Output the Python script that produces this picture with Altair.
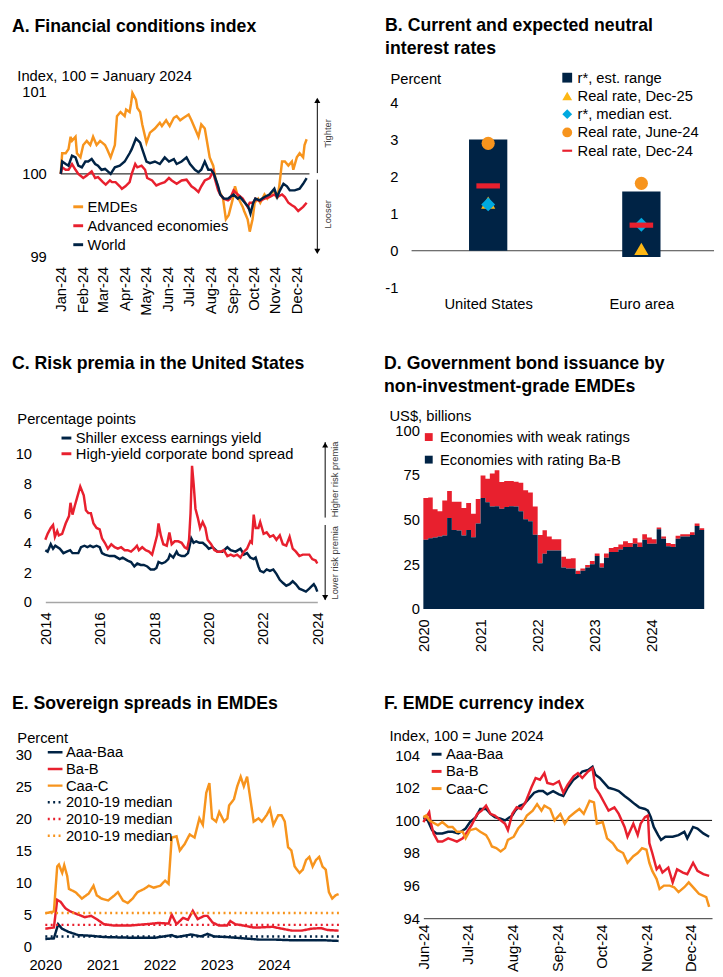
import altair as alt
import pandas as pd

FONT = "Liberation Sans"
NAVY = "#002345"
RED = "#E8202E"
ORANGE = "#F7941D"
GOLD = "#FDB714"
CYAN = "#00A9E0"
INK = "#000000"
NOTE = "#404040"

# ---------------- Panel A: Financial conditions index ----------------
A_SERIES = ["EMDEs", "Advanced economies", "World"]
A_EMDE = [("2024-01-01",100.00),("2024-01-03",100.25),("2024-01-08",100.25),("2024-01-12",100.30),("2024-01-15",100.45),("2024-01-17",100.40),("2024-01-22",100.45),("2024-01-24",100.25),("2024-01-29",100.20),("2024-02-02",100.35),("2024-02-07",100.40),("2024-02-12",100.35),("2024-02-16",100.45),("2024-02-21",100.35),("2024-02-26",100.40),("2024-03-04",100.35),("2024-03-07",100.30),("2024-03-12",100.20),("2024-03-18",100.35),("2024-03-21",100.70),("2024-03-26",100.75),("2024-04-01",100.70),("2024-04-03",100.78),("2024-04-08",100.75),("2024-04-10",100.85),("2024-04-12",100.98),("2024-04-17",100.90),("2024-04-19",100.80),("2024-04-23",100.75),("2024-04-26",100.60),("2024-05-02",100.38),("2024-05-07",100.50),("2024-05-14",100.55),("2024-05-21",100.62),("2024-05-24",100.58),("2024-05-30",100.65),("2024-06-04",100.58),("2024-06-10",100.68),("2024-06-14",100.70),("2024-06-19",100.65),("2024-06-24",100.68),("2024-07-01",100.72),("2024-07-05",100.65),("2024-07-10",100.55),("2024-07-15",100.45),("2024-07-19",100.60),("2024-07-24",100.55),("2024-07-26",100.45),("2024-07-31",100.20),("2024-08-05",100.10),("2024-08-08",99.95),("2024-08-13",99.80),("2024-08-19",99.70),("2024-08-23",99.45),("2024-08-27",99.50),("2024-09-02",99.70),("2024-09-05",99.85),("2024-09-10",99.70),("2024-09-16",99.60),("2024-09-18",99.55),("2024-09-23",99.45),("2024-09-26",99.30),("2024-09-30",99.45),("2024-10-03",99.65),("2024-10-08",99.70),("2024-10-11",99.65),("2024-10-17",99.75),("2024-10-21",99.70),("2024-10-25",99.75),("2024-10-31",99.80),("2024-11-04",99.70),("2024-11-07",99.85),("2024-11-11",100.15),("2024-11-15",100.15),("2024-11-20",100.10),("2024-11-25",100.15),("2024-11-27",100.05),("2024-12-02",100.20),("2024-12-06",100.25),("2024-12-11",100.20),("2024-12-13",100.35),("2024-12-16",100.42)]
A_AE = [("2024-01-01",100.00),("2024-01-03",100.08),("2024-01-08",100.05),("2024-01-12",100.05),("2024-01-17",100.12),("2024-01-22",100.05),("2024-01-26",100.00),("2024-02-02",99.95),("2024-02-07",99.98),("2024-02-14",100.03),("2024-02-19",99.95),("2024-02-23",99.96),("2024-03-01",99.90),("2024-03-05",99.87),("2024-03-11",99.92),("2024-03-14",99.90),("2024-03-19",99.90),("2024-03-25",99.85),("2024-03-28",99.82),("2024-04-02",99.85),("2024-04-08",99.90),("2024-04-11",100.00),("2024-04-16",100.12),("2024-04-19",100.08),("2024-04-25",100.10),("2024-04-30",100.05),("2024-05-03",99.95),("2024-05-10",99.92),("2024-05-16",99.86),("2024-05-21",99.88),("2024-05-28",99.90),("2024-06-03",99.95),("2024-06-07",99.92),("2024-06-14",99.88),("2024-06-21",99.92),("2024-06-28",99.93),("2024-07-05",99.85),("2024-07-10",99.82),("2024-07-15",99.78),("2024-07-19",99.85),("2024-07-24",99.92),("2024-07-31",99.95),("2024-08-05",100.03),("2024-08-07",99.95),("2024-08-12",99.80),("2024-08-15",99.75),("2024-08-20",99.70),("2024-08-26",99.68),("2024-08-29",99.70),("2024-09-03",99.80),("2024-09-09",99.75),("2024-09-16",99.70),("2024-09-23",99.60),("2024-09-26",99.65),("2024-10-01",99.65),("2024-10-04",99.70),("2024-10-10",99.67),("2024-10-17",99.70),("2024-10-24",99.72),("2024-10-31",99.75),("2024-11-04",99.72),("2024-11-11",99.75),("2024-11-15",99.72),("2024-11-20",99.65),("2024-11-25",99.62),("2024-11-29",99.60),("2024-12-04",99.55),("2024-12-11",99.60),("2024-12-16",99.65)]
A_WORLD = [("2024-01-01",100.00),("2024-01-03",100.15),("2024-01-08",100.12),("2024-01-12",100.10),("2024-01-17",100.22),("2024-01-22",100.20),("2024-01-26",100.10),("2024-01-31",100.08),("2024-02-05",100.15),("2024-02-09",100.15),("2024-02-14",100.18),("2024-02-19",100.12),("2024-02-23",100.10),("2024-02-28",100.05),("2024-03-04",100.06),("2024-03-12",100.00),("2024-03-18",100.08),("2024-03-25",100.10),("2024-04-01",100.15),("2024-04-08",100.25),("2024-04-11",100.30),("2024-04-17",100.43),("2024-04-23",100.38),("2024-04-26",100.30),("2024-05-02",100.15),("2024-05-07",100.13),("2024-05-14",100.15),("2024-05-21",100.12),("2024-05-28",100.20),("2024-06-03",100.15),("2024-06-10",100.18),("2024-06-14",100.12),("2024-06-21",100.15),("2024-06-28",100.20),("2024-07-03",100.12),("2024-07-10",100.05),("2024-07-15",100.02),("2024-07-19",100.05),("2024-07-24",100.15),("2024-07-29",100.05),("2024-08-02",100.05),("2024-08-06",100.00),("2024-08-12",99.85),("2024-08-15",99.75),("2024-08-20",99.70),("2024-08-26",99.70),("2024-08-29",99.72),("2024-09-03",99.75),("2024-09-09",99.70),("2024-09-12",99.72),("2024-09-19",99.65),("2024-09-24",99.60),("2024-09-27",99.52),("2024-10-01",99.65),("2024-10-04",99.70),("2024-10-10",99.68),("2024-10-17",99.72),("2024-10-24",99.75),("2024-10-31",99.82),("2024-11-04",99.72),("2024-11-08",99.80),("2024-11-13",99.88),("2024-11-18",99.85),("2024-11-22",99.80),("2024-11-29",99.80),("2024-12-06",99.82),("2024-12-11",99.88),("2024-12-16",99.95)]
A_BASE = {"start": ["2024-01-01"], "end": ["2024-12-20"], "level": [100]}
A_ARROWS = {"y": [100.01, 99.93], "y2": [100.90, 99.05]}
A_HEADS = {"y": [100.89, 99.06], "shape": ["triangle-up", "triangle-down"]}
A_NOTES = {"y": [100.49, 99.51], "label": ["Tighter", "Looser"]}

# ---------------- Panel B: neutral rates ----------------
B_COUNTRIES = ["United States", "Euro area"]
B_RANGE_LOW = [0.0, -0.17]
B_RANGE_HIGH = [3.0, 1.6]
B_SERIES = ["r*, est. range", "Real rate, Dec-25", "r*, median est.", "Real rate, June-24", "Real rate, Dec-24"]
B_DEC25 = [1.30, 0.05]
B_MEDIAN = [1.25, 0.70]
B_JUN24 = [2.90, 1.82]
B_DEC24 = [1.75, 0.69]

# ---------------- Panel C: risk premia ----------------
C_SERIES = ["Shiller excess earnings yield", "High-yield corporate bond spread"]
C_SHILLER = [("2014-01-01",3.5),("2014-02-01",3.4),("2014-03-15",3.9),("2014-04-15",3.6),("2014-05-15",3.8),("2014-07-15",3.6),("2014-09-01",3.3),("2014-10-15",3.4),("2014-12-01",3.5),("2015-01-01",3.3),("2015-02-15",3.3),("2015-03-20",3.3),("2015-04-25",3.7),("2015-06-10",3.8),("2015-07-20",3.7),("2015-08-25",3.8),("2015-10-05",3.7),("2015-11-20",3.8),("2016-01-01",3.7),("2016-02-01",3.3),("2016-03-10",3.2),("2016-05-15",3.1),("2016-07-20",3.1),("2016-09-25",2.9),("2016-11-05",3.0),("2017-01-10",2.8),("2017-02-25",2.7),("2017-04-10",2.4),("2017-05-20",2.6),("2017-07-05",2.5),("2017-08-15",2.5),("2017-10-01",2.4),("2017-11-15",2.2),("2018-01-01",2.2),("2018-02-01",2.3),("2018-03-01",2.7),("2018-04-15",2.6),("2018-05-30",2.7),("2018-07-10",2.9),("2018-08-01",3.2),("2018-09-15",3.0),("2018-10-30",3.4),("2018-11-20",3.2),("2019-01-05",3.1),("2019-02-15",3.1),("2019-04-01",3.3),("2019-05-15",4.3),("2019-06-15",4.0),("2019-07-20",4.1),("2019-09-01",4.0),("2019-10-15",4.0),("2019-11-30",3.8),("2020-01-05",3.6),("2020-02-25",3.7),("2020-05-01",3.4),("2020-07-05",3.4),("2020-09-10",3.7),("2020-10-25",3.5),("2020-12-30",3.4),("2021-03-05",3.6),("2021-04-20",3.2),("2021-06-01",3.3),("2021-07-15",3.0),("2021-08-30",2.9),("2021-09-25",3.0),("2021-11-01",2.4),("2021-11-25",2.1),("2022-01-10",2.0),("2022-02-20",2.2),("2022-04-05",2.1),("2022-05-20",2.2),("2022-07-01",1.9),("2022-08-15",1.5),("2022-09-25",1.3),("2022-11-10",1.1),("2022-12-25",1.2),("2023-02-05",1.4),("2023-03-20",1.2),("2023-05-05",0.9),("2023-06-20",0.8),("2023-08-01",0.7),("2023-09-15",0.9),("2023-10-25",1.1),("2023-11-15",1.2),("2023-12-10",1.0),("2024-01-01",0.7)]
C_HIGHYIELD = [("2014-01-01",4.2),("2014-02-01",4.6),("2014-03-15",5.0),("2014-04-15",5.2),("2014-05-10",4.4),("2014-06-10",4.8),("2014-07-01",4.5),("2014-08-15",4.6),("2014-10-01",5.3),("2014-11-15",5.8),("2014-12-05",6.7),("2015-01-01",5.9),("2015-02-01",6.5),("2015-03-01",7.0),("2015-04-15",7.8),("2015-06-01",7.2),("2015-06-30",6.2),("2015-08-01",6.0),("2015-09-05",6.0),("2015-10-10",5.3),("2015-11-20",5.0),("2016-01-01",4.9),("2016-02-01",4.3),("2016-03-10",4.0),("2016-04-20",3.6),("2016-06-05",3.9),("2016-07-20",3.7),("2016-09-01",3.6),("2016-10-15",3.7),("2016-12-01",3.5),("2017-01-10",3.5),("2017-02-25",3.4),("2017-04-10",3.6),("2017-05-15",3.8),("2017-06-10",3.5),("2017-07-25",3.7),("2017-09-10",3.5),("2017-10-25",3.4),("2017-12-05",3.2),("2018-01-05",3.8),("2018-02-10",4.5),("2018-03-01",5.3),("2018-04-01",4.5),("2018-05-05",3.9),("2018-06-20",3.8),("2018-07-25",4.7),("2018-08-25",3.9),("2018-10-05",4.1),("2018-11-20",4.1),("2019-01-05",4.0),("2019-02-15",3.7),("2019-03-20",3.6),("2019-04-15",4.2),("2019-05-05",6.0),("2019-05-25",9.2),("2019-06-15",8.0),("2019-07-10",6.3),("2019-08-10",5.7),("2019-09-10",5.0),("2019-10-15",5.4),("2019-11-20",5.0),("2019-12-20",4.2),("2020-02-05",3.9),("2020-03-20",3.5),("2020-05-01",3.4),("2020-06-15",3.4),("2020-07-25",3.5),("2020-09-10",3.1),("2020-10-25",3.2),("2020-12-05",3.1),("2021-01-20",3.2),("2021-03-05",3.0),("2021-04-20",3.4),("2021-06-01",3.6),("2021-07-15",4.1),("2021-08-05",4.0),("2021-08-30",5.9),("2021-09-25",5.0),("2021-11-01",5.0),("2021-11-25",5.4),("2022-01-10",4.6),("2022-02-20",4.7),("2022-04-05",4.4),("2022-05-20",4.5),("2022-07-01",4.2),("2022-08-15",4.5),("2022-09-25",3.9),("2022-11-10",3.8),("2022-12-25",4.4),("2023-02-05",3.6),("2023-03-20",3.4),("2023-05-05",3.1),("2023-06-20",3.2),("2023-08-01",3.2),("2023-09-15",3.2),("2023-10-25",2.9),("2023-12-10",2.8),("2024-01-01",2.6)]
C_ARROWS = {"y": [10.8, 5.2], "y2": [5.7, 0.15]}
C_HEADS = {"y": [10.6, 0.3], "shape": ["triangle-up", "triangle-down"]}
C_NOTES = {"y": [8.28, 2.65], "label": ["Higher risk premia", "Lower risk premia"]}

# ---------------- Panel D: bond issuance (monthly, Jan 2020 onward) ----------------
D_SERIES = ["Economies with weak ratings", "Economies with rating Ba-B"]
D_START = "2020-01-01"
D_BA_B = [38.7, 39.6, 40.0, 40.5, 41.0, 50.9, 44.2, 43.8, 41.0, 44.2, 40.1, 47.8,
          62.0, 59.7, 57.3, 57.5, 56.0, 57.0, 57.5, 57.3, 54.6, 50.2, 49.1, 41.5,
          25.5, 30.8, 32.7, 32.7, 32.7, 23.2, 22.6, 22.6, 19.5, 21.4, 23.2, 25.0,
          29.6, 23.2, 28.6, 31.8, 31.8, 33.2, 34.7, 34.7, 36.5, 34.7, 38.7, 36.5,
          36.5, 44.5, 39.2, 35.0, 34.7, 39.2, 40.5, 40.5, 41.4, 46.4, 44.2]
D_WEAK = [23.3, 22.8, 15.7, 14.2, 19.6, 15.1, 15.8, 16.2, 15.4, 15.1, 13.2, 13.7,
          12.6, 13.1, 18.4, 20.1, 15.0, 14.5, 14.0, 13.9, 16.0, 16.2, 16.0, 15.8,
          15.9, 13.2, 7.8, 6.3, 6.3, 6.0, 5.5, 5.7, 1.9, 1.2, 1.3, 1.8,
          1.4, 2.3, 2.4, 2.3, 2.9, 2.8, 3.1, 2.2, 3.1, 2.5, 3.1, 3.5,
          2.5, 1.1, 1.3, 1.9, 1.6, 1.7, 1.3, 1.3, 1.5, 1.4, 0.9]

# ---------------- Panel E: sovereign spreads ----------------
E_KEYS = ["Aaa-Baa", "Ba-B", "Caa-C", "Aaa-Baa median", "Ba-B median", "Caa-C median"]
E_AAA = [("2020-01-01",1.2),("2020-02-25",1.3),("2020-03-23",3.5),("2020-04-17",2.8),("2020-05-29",2.3),("2020-07-30",1.8),("2020-10-20",1.7),("2021-01-10",1.5),("2021-06-24",1.4),("2021-12-05",1.4),("2022-03-19",1.8),("2022-04-19",1.5),("2022-07-21",1.9),("2022-09-22",1.6),("2022-11-03",2.0),("2022-12-14",1.6),("2023-03-08",1.5),("2023-06-20",1.3),("2023-10-01",1.1),("2024-01-13",1.1),("2024-04-25",1.0),("2024-08-06",1.0),("2024-11-18",1.0),("2025-02-18",0.9)]
E_BAB = [("2020-01-01",2.8),("2020-02-25",3.0),("2020-03-17",7.3),("2020-04-07",7.0),("2020-05-08",6.0),("2020-06-08",5.5),("2020-07-30",5.0),("2020-09-09",4.6),("2020-10-20",4.8),("2020-11-30",4.2),("2021-01-10",3.5),("2021-03-13",3.3),("2021-06-24",3.3),("2021-10-05",3.5),("2021-12-26",3.7),("2022-02-27",3.6),("2022-03-19",5.0),("2022-04-19",3.5),("2022-05-31",4.5),("2022-07-01",4.2),("2022-08-01",5.6),("2022-09-01",4.3),("2022-10-13",4.8),("2022-11-03",4.8),("2022-12-04",3.8),("2023-01-14",3.3),("2023-03-08",3.3),("2023-03-29",4.0),("2023-04-29",3.5),("2023-06-20",3.3),("2023-08-21",3.0),("2023-10-01",3.0),("2023-12-23",3.1),("2024-02-23",2.8),("2024-04-25",2.5),("2024-06-26",2.5),("2024-08-27",2.8),("2024-10-28",2.9),("2024-12-09",2.6),("2025-02-18",2.5)]
E_CAA = [("2020-01-01",5.2),("2020-02-25",5.5),("2020-03-17",12.5),("2020-03-28",12.8),("2020-04-18",11.5),("2020-05-01",12.7),("2020-05-20",11.0),("2020-05-31",9.0),("2020-07-12",8.5),("2020-08-22",7.5),("2020-10-05",8.3),("2020-11-04",9.5),("2020-11-25",8.0),("2020-12-25",7.5),("2021-02-06",7.2),("2021-03-18",8.0),("2021-04-09",8.5),("2021-05-11",7.2),("2021-06-11",6.8),("2021-07-12",7.5),("2021-08-12",8.5),("2021-09-24",9.0),("2021-10-24",9.5),("2021-11-24",9.2),("2022-01-05",9.5),("2022-02-05",10.3),("2022-02-27",9.8),("2022-03-19",17.0),("2022-04-19",17.2),("2022-05-10",15.0),("2022-06-10",16.0),("2022-07-12",17.5),("2022-08-12",17.0),("2022-09-12",20.0),("2022-10-04",19.0),("2022-10-26",24.0),("2022-11-15",25.5),("2022-12-02",20.0),("2022-12-28",19.5),("2023-01-17",21.0),("2023-02-17",19.5),("2023-03-10",20.0),("2023-03-21",22.0),("2023-04-21",23.0),("2023-05-12",25.0),("2023-06-03",26.5),("2023-06-23",25.0),("2023-07-14",26.5),("2023-08-04",23.0),("2023-08-25",19.5),("2023-09-25",20.0),("2023-10-16",19.5),("2023-11-16",20.5),("2023-12-07",21.5),("2023-12-29",19.0),("2024-01-29",20.5),("2024-02-19",20.5),("2024-03-11",19.5),("2024-04-01",15.5),("2024-04-22",15.0),("2024-05-13",12.5),("2024-06-13",11.5),("2024-07-04",12.0),("2024-07-25",13.5),("2024-08-15",14.0),("2024-09-05",12.5),("2024-09-26",13.5),("2024-10-17",14.0),("2024-11-07",12.5),("2024-11-28",12.0),("2024-12-18",8.5),("2025-01-08",7.5),("2025-01-29",8.0),("2025-02-18",8.2)]
E_MEDIANS = [1.6, 3.4, 5.25]
E_SPAN = ["2020-01-01", "2025-02-20"]

# ---------------- Panel F: EMDE currency index ----------------
F_SERIES = ["Aaa-Baa", "Ba-B", "Caa-C"]
F_AAA = [("2024-06-01",100.1),("2024-06-03",100.2),("2024-06-05",99.8),("2024-06-07",99.4),("2024-06-10",99.2),("2024-06-14",99.2),("2024-06-18",99.3),("2024-06-21",99.3),("2024-06-25",99.2),("2024-06-30",99.5),("2024-07-03",99.9),("2024-07-07",100.2),("2024-07-10",100.7),("2024-07-14",100.7),("2024-07-17",100.4),("2024-07-20",100.2),("2024-07-24",100.1),("2024-07-27",100.0),("2024-08-01",100.3),("2024-08-03",100.6),("2024-08-06",100.9),("2024-08-09",101.0),("2024-08-13",101.4),("2024-08-16",101.7),("2024-08-19",101.8),("2024-08-22",101.8),("2024-08-25",101.6),("2024-08-29",101.8),("2024-09-02",101.6),("2024-09-05",101.5),("2024-09-08",102.0),("2024-09-12",102.5),("2024-09-15",102.7),("2024-09-18",103.0),("2024-09-22",103.1),("2024-09-25",103.3),("2024-09-27",102.8),("2024-09-30",102.6),("2024-10-03",102.3),("2024-10-06",102.0),("2024-10-10",101.9),("2024-10-13",101.8),("2024-10-17",101.5),("2024-10-20",101.3),("2024-10-24",101.0),("2024-10-27",100.8),("2024-10-31",100.7),("2024-11-02",100.6),("2024-11-04",100.2),("2024-11-06",99.6),("2024-11-09",99.1),("2024-11-11",98.8),("2024-11-14",99.0),("2024-11-19",99.0),("2024-11-23",99.1),("2024-11-27",99.3),("2024-11-29",98.9),("2024-12-03",99.6),("2024-12-06",99.5),("2024-12-10",99.2),("2024-12-14",99.0)]
F_BAB = [("2024-06-01",99.9),("2024-06-03",100.2),("2024-06-05",100.5),("2024-06-06",99.9),("2024-06-08",99.2),("2024-06-11",98.7),("2024-06-14",98.7),("2024-06-18",98.9),("2024-06-21",98.8),("2024-06-24",98.7),("2024-06-28",98.9),("2024-07-01",99.3),("2024-07-04",99.7),("2024-07-08",100.4),("2024-07-11",100.6),("2024-07-14",100.9),("2024-07-17",100.4),("2024-07-20",100.3),("2024-07-24",100.0),("2024-07-27",99.8),("2024-07-29",99.4),("2024-08-01",100.4),("2024-08-04",100.8),("2024-08-07",100.7),("2024-08-10",101.1),("2024-08-14",102.0),("2024-08-17",102.6),("2024-08-20",102.5),("2024-08-23",102.9),("2024-08-25",102.3),("2024-08-29",102.2),("2024-09-02",102.4),("2024-09-05",101.7),("2024-09-08",102.2),("2024-09-12",102.7),("2024-09-15",102.9),("2024-09-18",102.6),("2024-09-22",103.0),("2024-09-25",103.2),("2024-09-27",102.0),("2024-09-30",101.6),("2024-10-03",101.1),("2024-10-06",100.6),("2024-10-10",100.8),("2024-10-13",100.4),("2024-10-17",99.6),("2024-10-19",99.0),("2024-10-23",99.8),("2024-10-26",99.1),("2024-10-28",99.8),("2024-10-31",100.2),("2024-11-02",100.3),("2024-11-03",98.6),("2024-11-05",98.0),("2024-11-08",97.0),("2024-11-10",97.2),("2024-11-12",96.8),("2024-11-16",97.1),("2024-11-19",96.2),("2024-11-22",97.0),("2024-11-26",96.8),("2024-11-29",96.7),("2024-12-03",97.4),("2024-12-06",96.9),("2024-12-10",96.7),("2024-12-14",96.6)]
F_CAA = [("2024-06-01",100.2),("2024-06-03",100.3),("2024-06-05",100.0),("2024-06-07",99.9),("2024-06-11",99.7),("2024-06-14",99.9),("2024-06-18",99.6),("2024-06-21",99.6),("2024-06-24",99.3),("2024-06-28",99.3),("2024-06-30",98.9),("2024-07-03",99.4),("2024-07-07",99.5),("2024-07-10",99.3),("2024-07-14",99.1),("2024-07-16",98.8),("2024-07-18",98.4),("2024-07-21",98.3),("2024-07-24",98.1),("2024-07-27",98.3),("2024-07-29",98.8),("2024-08-02",99.0),("2024-08-05",99.5),("2024-08-08",99.8),("2024-08-11",100.3),("2024-08-15",100.6),("2024-08-18",101.0),("2024-08-21",100.6),("2024-08-23",100.9),("2024-08-27",100.7),("2024-08-30",100.0),("2024-09-03",100.4),("2024-09-06",99.8),("2024-09-09",100.2),("2024-09-13",100.5),("2024-09-16",100.7),("2024-09-19",100.4),("2024-09-23",101.2),("2024-09-26",101.1),("2024-09-28",99.8),("2024-10-02",99.9),("2024-10-05",98.9),("2024-10-09",98.6),("2024-10-12",98.2),("2024-10-16",98.0),("2024-10-19",97.4),("2024-10-23",97.8),("2024-10-26",98.0),("2024-10-29",98.3),("2024-11-01",98.2),("2024-11-03",97.4),("2024-11-05",96.9),("2024-11-08",96.4),("2024-11-10",95.8),("2024-11-13",96.0),("2024-11-17",96.0),("2024-11-20",95.9),("2024-11-23",95.6),("2024-11-27",95.9),("2024-11-30",96.2),("2024-12-04",95.8),("2024-12-07",95.5),("2024-12-12",95.3),("2024-12-14",94.7)]
F_BASE = {"start": ["2024-06-01"], "end": ["2024-12-16"], "level": [100]}

PLAIN_NUMBER = "'' + datum.value"


def pairs_frame(pairs, name, key="series"):
    return pd.DataFrame({"date": pd.to_datetime([p[0] for p in pairs]),
                         "value": [p[1] for p in pairs], key: name})


def dt(y, m, d=1):
    return alt.DateTime(year=y, month=m, date=d)


def ptitle(text, dx, offset):
    return alt.TitleParams(text=text, dx=dx, offset=offset, anchor="start", frame="group",
                           font=FONT, fontSize=18, fontWeight="bold", color=INK, lineHeight=23)


def line_legend(x, y, row_pad, size=100, width=3, **kw):
    return alt.Legend(orient="none", legendX=x, legendY=y, title=None, symbolType="stroke",
                      symbolSize=size, symbolStrokeWidth=width, rowPadding=row_pad, padding=0,
                      labelOffset=2, labelFontSize=15, labelFont=FONT, labelColor=INK,
                      labelLimit=400, **kw)


def y_axis(values, title, tx, ty, pad):
    return alt.Axis(values=values, labelExpr=PLAIN_NUMBER, title=title, titleAngle=0, titleAlign="left",
                    titleBaseline="alphabetic", titleX=tx, titleY=ty, labelPadding=pad, labelOverlap=False)


def annotations(df_arrows, df_heads, df_notes, yscale, yaxis, xpos, xtext):
    arrows = alt.Chart(pd.DataFrame(df_arrows)).mark_rule(color=INK, strokeWidth=1).encode(
        x=alt.value(xpos), y=alt.Y("y:Q", scale=yscale, axis=yaxis), y2="y2:Q")
    heads = alt.Chart(pd.DataFrame(df_heads)).mark_point(filled=True, color=INK, opacity=1, size=38).encode(
        x=alt.value(xpos), y=alt.Y("y:Q", scale=yscale, axis=yaxis), shape=alt.Shape("shape:N", scale=None))
    notes = alt.Chart(pd.DataFrame(df_notes)).mark_text(angle=270, fontSize=9.5, font=FONT, color=NOTE).encode(
        x=alt.value(xtext), y=alt.Y("y:Q", scale=yscale, axis=yaxis), text="label:N")
    return [arrows, heads, notes]


# ======================= Panel A =======================
WA, HA = 269, 168
a_df = pd.concat([pairs_frame(A_EMDE, A_SERIES[0]), pairs_frame(A_AE, A_SERIES[1]),
                  pairs_frame(A_WORLD, A_SERIES[2])])
a_xs = alt.Scale(domain=[dt(2023, 12, 10), dt(2024, 12, 20)])
a_ys = alt.Scale(domain=[99, 101], nice=False, zero=False)
a_xaxis = alt.Axis(values=[dt(2024, m) for m in range(1, 13)], format="%b-%y", labelAngle=-90,
                   labelPadding=10, labelOverlap=False)
a_yaxis = y_axis([99, 100, 101], "Index, 100 = January 2024", -29, -11, -1)
a_base = alt.Chart(pd.DataFrame(A_BASE)).mark_rule(color=INK, strokeWidth=1).encode(
    x=alt.X("start:T", scale=a_xs, axis=a_xaxis, title=None), x2="end:T",
    y=alt.Y("level:Q", scale=a_ys, axis=a_yaxis))
a_lines = alt.Chart(a_df).mark_line(strokeWidth=2.5).encode(
    x=alt.X("date:T", scale=a_xs, axis=a_xaxis, title=None),
    y=alt.Y("value:Q", scale=a_ys, axis=a_yaxis),
    color=alt.Color("series:N", scale=alt.Scale(domain=A_SERIES, range=[ORANGE, RED, NAVY]),
                    legend=line_legend(26, 110, 3.3)))
panel_a = alt.layer(a_base, a_lines,
                    *annotations(A_ARROWS, A_HEADS, A_NOTES, a_ys, a_yaxis, WA + 8, WA + 19)).properties(
    width=WA, height=HA, title=ptitle("A. Financial conditions index", -34, 33))

# ======================= Panel B =======================
WB, HB = 288, 200
b_range = pd.DataFrame({"country": B_COUNTRIES, "low": B_RANGE_LOW, "high": B_RANGE_HIGH})
b_points = pd.DataFrame({
    "country": [c for c in B_COUNTRIES for _ in range(4)],
    "series": [s for _ in B_COUNTRIES for s in B_SERIES[1:]],
    "value": [v for i in range(2) for v in (B_DEC25[i], B_MEDIAN[i], B_JUN24[i], B_DEC24[i])],
})
b_xs = alt.Scale(type="point", domain=B_COUNTRIES, padding=0.423)
b_ys = alt.Scale(domain=[-1, 4.3], nice=False, zero=False)
b_x = alt.X("country:N", scale=b_xs, sort=B_COUNTRIES, title=None,
            axis=alt.Axis(labelAngle=0, labelPadding=9))
b_y_axis = y_axis([-1, 0, 1, 2, 3, 4], "Percent", -34, -8, 26)
DASH = "M-1,-0.22L1,-0.22L1,0.22L-1,0.22Z"
MARKER_SIZE = ("datum.series === 'Real rate, Dec-24' ? 576 : "
               "datum.series === 'Real rate, June-24' ? 180 : "
               "datum.series === 'r*, median est.' ? 200 : 210")
b_legend = alt.Legend(orient="none", legendX=139, legendY=-21.5, title=None, symbolSize=100,
                      rowPadding=2.6, padding=0, labelOffset=3, labelFontSize=15, labelFont=FONT,
                      labelColor=INK, symbolStrokeWidth=0, labelLimit=400)
b_zero = alt.Chart(pd.DataFrame({"level": [0]})).mark_rule(color=NOTE, strokeWidth=1).encode(
    x=alt.value(-12), x2=alt.value(WB + 8), y=alt.Y("level:Q", scale=b_ys, axis=b_y_axis))
b_bars = alt.Chart(b_range).mark_bar(size=39, color=NAVY).encode(
    x=b_x, y=alt.Y("low:Q", scale=b_ys, axis=b_y_axis), y2="high:Q")
b_marks = alt.Chart(b_points).transform_calculate(msize=MARKER_SIZE).mark_point(
    filled=True, opacity=1, strokeWidth=0).encode(
    x=b_x, y=alt.Y("value:Q", scale=b_ys, axis=b_y_axis),
    color=alt.Color("series:N", scale=alt.Scale(domain=B_SERIES, range=[NAVY, GOLD, CYAN, ORANGE, RED]),
                    legend=b_legend),
    shape=alt.Shape("series:N", scale=alt.Scale(domain=B_SERIES,
                                                range=["square", "triangle-up", "diamond", "circle", DASH]),
                    legend=b_legend),
    size=alt.Size("msize:Q", scale=None, legend=None))
panel_b = alt.layer(b_zero, b_bars, b_marks).properties(
    width=WB, height=HB, title=ptitle(["B. Current and expected neutral", "interest rates"], -39, 13))

# ======================= Panel C =======================
WC, HC = 277, 175
c_df = pd.concat([pairs_frame(C_SHILLER, C_SERIES[0]), pairs_frame(C_HIGHYIELD, C_SERIES[1])])
c_xs = alt.Scale(domain=[dt(2014, 1), dt(2024, 1)])
c_ys = alt.Scale(domain=[0, 11.6], nice=False, zero=False)
c_yaxis = y_axis([0, 2, 4, 6, 8, 10], "Percentage points", -29, -7, 14)
c_lines = alt.Chart(c_df).mark_line(strokeWidth=2.5).encode(
    x=alt.X("date:T", scale=c_xs, title=None,
            axis=alt.Axis(values=[dt(y, 1) for y in range(2014, 2025, 2)], format="%Y", labelAngle=-90,
                          labelPadding=10, domain=True, domainColor="#A6A6A6", domainWidth=1.5,
                          labelOverlap=False)),
    y=alt.Y("value:Q", scale=c_ys, axis=c_yaxis),
    color=alt.Color("series:N", scale=alt.Scale(domain=C_SERIES, range=[NAVY, RED]),
                    legend=line_legend(14, 0.5, -1)))
panel_c = alt.layer(c_lines,
                    *annotations(C_ARROWS, C_HEADS, C_NOTES, c_ys, c_yaxis, WC + 8, WC + 18)).properties(
    width=WC, height=HC, title=ptitle("C. Risk premia in the United States", -34, 39))

# ======================= Panel D =======================
WD, HD = 286, 182
d_dates = list(pd.date_range(D_START, periods=len(D_BA_B), freq="MS"))
d_df = pd.DataFrame({"date": d_dates + [d_dates[-1] + pd.DateOffset(months=1)],
                     "ba_b": D_BA_B + [D_BA_B[-1]], "weak": D_WEAK + [D_WEAK[-1]]})
d_xs = alt.Scale(domain=[dt(2020, 1), dt(2024, 12)])
d_ys = alt.Scale(domain=[0, 100], nice=False)
d_x = alt.X("date:T", scale=d_xs, title=None,
            axis=alt.Axis(values=[dt(y, 1) for y in range(2020, 2025)], format="%Y", labelAngle=-90,
                          labelPadding=10, labelOverlap=False))
d_y_axis = y_axis([0, 25, 50, 75, 100], "US$, billions", -35, -10, 4)
d_cscale = alt.Scale(domain=D_SERIES, range=[RED, NAVY])
d_legend = alt.Legend(orient="none", legendX=-2, legendY=-0.5, title=None, symbolType="square",
                      symbolSize=64, rowPadding=7, padding=0, labelOffset=4, labelFontSize=15,
                      labelFont=FONT, labelColor=INK, symbolStrokeWidth=0, labelLimit=400)
d_blue = alt.Chart(d_df).transform_calculate(group="'" + D_SERIES[1] + "'").mark_area(
    interpolate="step-after").encode(
    x=d_x, y=alt.Y("ba_b:Q", scale=d_ys, axis=d_y_axis),
    color=alt.Color("group:N", scale=d_cscale, legend=d_legend))
d_red = alt.Chart(d_df).transform_calculate(
    total="datum.ba_b + datum.weak", group="'" + D_SERIES[0] + "'").mark_area(
    interpolate="step-after").encode(
    x=d_x, y=alt.Y("total:Q", scale=d_ys, axis=d_y_axis), y2="ba_b:Q",
    color=alt.Color("group:N", scale=d_cscale, legend=d_legend))
panel_d = alt.layer(d_red, d_blue).properties(
    width=WD, height=HD,
    title=ptitle(["D. Government bond issuance by", "non-investment-grade EMDEs"], -40, 13))

# ======================= Panel E =======================
WE, HE = 299, 199
e_frames = [pairs_frame(E_AAA, E_KEYS[0], "key"), pairs_frame(E_BAB, E_KEYS[1], "key"),
            pairs_frame(E_CAA, E_KEYS[2], "key")]
for k, m in zip(E_KEYS[3:], E_MEDIANS):
    e_frames.append(pd.DataFrame({"date": pd.to_datetime(E_SPAN), "value": [m, m], "key": k}))
e_df = pd.concat(e_frames)
e_legend = line_legend(1, -8, -1, size=225, width=2.5,
                       labelExpr="indexof(datum.label, 'median') >= 0 ? '2010-19 median' : datum.label")
e_lines = alt.Chart(e_df).mark_line(strokeWidth=2.5).encode(
    x=alt.X("date:T", scale=alt.Scale(domain=[dt(2020, 1), dt(2025, 2, 20)]), title=None,
            axis=alt.Axis(values=[dt(y, 1) for y in range(2020, 2025)], format="%Y", labelAngle=0,
                          labelAlign="center", labelPadding=11, labelOverlap=False)),
    y=alt.Y("value:Q", scale=alt.Scale(domain=[0, 30.46], nice=False),
            axis=y_axis([0, 5, 10, 15, 20, 25, 30], "Percent", -29, -9, 14)),
    color=alt.Color("key:N", scale=alt.Scale(domain=E_KEYS, range=[NAVY, RED, ORANGE, NAVY, RED, ORANGE]),
                    legend=e_legend),
    strokeDash=alt.StrokeDash("key:N", scale=alt.Scale(domain=E_KEYS,
                                                       range=[[1, 0], [1, 0], [1, 0], [2, 3.5], [2, 3.5], [2, 3.5]]),
                              legend=e_legend))
panel_e = e_lines.properties(width=WE, height=HE, title=ptitle("E. Sovereign spreads in EMDEs", -34, 18))

# ======================= Panel F =======================
WF, HF = 294, 170
f_df = pd.concat([pairs_frame(F_AAA, F_SERIES[0]), pairs_frame(F_BAB, F_SERIES[1]),
                  pairs_frame(F_CAA, F_SERIES[2])])
f_xs = alt.Scale(domain=[dt(2024, 6, 1), dt(2024, 12, 16)])
f_ys = alt.Scale(domain=[94, 104.24], nice=False, zero=False)
f_xaxis = alt.Axis(values=[dt(2024, m) for m in range(6, 13)], format="%b-%y", labelAngle=-90,
                   labelPadding=6, domain=True, domainColor="#333333", domainWidth=1, labelOverlap=False)
f_yaxis = y_axis([94, 96, 98, 100, 102, 104], "Index, 100 = June 2024", -35, -11, 4)
f_base = alt.Chart(pd.DataFrame(F_BASE)).mark_rule(color=INK, strokeWidth=1).encode(
    x=alt.X("start:T", scale=f_xs, axis=f_xaxis, title=None), x2="end:T",
    y=alt.Y("level:Q", scale=f_ys, axis=f_yaxis))
f_lines = alt.Chart(f_df).mark_line(strokeWidth=2.5).encode(
    x=alt.X("date:T", scale=f_xs, axis=f_xaxis, title=None),
    y=alt.Y("value:Q", scale=f_ys, axis=f_yaxis),
    color=alt.Color("series:N", scale=alt.Scale(domain=F_SERIES, range=[NAVY, RED, ORANGE]),
                    legend=line_legend(6, -4.5, 1.5)))
panel_f = alt.layer(f_base, f_lines).properties(
    width=WF, height=HF, title=ptitle("F. EMDE currency index", -40, 16))

# ======================= Layout =======================
RES = dict(x="independent", y="independent", color="independent", shape="independent",
           size="independent", strokeDash="independent")
chart = alt.concat(panel_a, panel_b, panel_c, panel_d, panel_e, panel_f, columns=2,
                   spacing={"row": 145, "column": 86}, bounds="flush", align="each"
                   ).resolve_scale(**RES).properties(
    padding={"left": 4, "top": 0, "right": 0, "bottom": 0}
).configure_axis(
    labelFont=FONT, labelFontSize=15, labelColor=INK, titleFont=FONT, titleFontSize=15,
    titleFontWeight="normal", titleColor=INK, grid=False, ticks=False, domain=False,
    labelFlush=False, labelOverlap=False
).configure_view(stroke=None).configure_legend(labelFont=FONT)

chart.save("out.html", embed_options={"renderer": "svg", "actions": False})
